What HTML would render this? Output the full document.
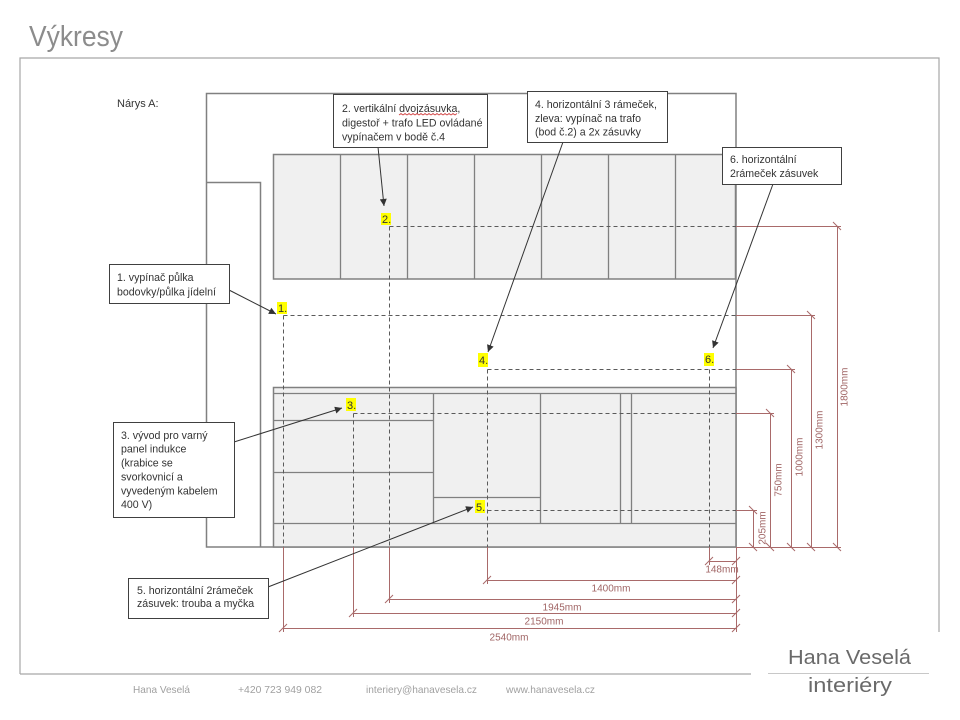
<!DOCTYPE html>
<html><head><meta charset="utf-8"><style>
html,body{margin:0;padding:0;background:#fff;}
svg{display:block;}
text{font-family:"Liberation Sans",sans-serif;}
</style></head><body>
<svg width="960" height="720" viewBox="0 0 960 720" xmlns="http://www.w3.org/2000/svg">
<defs>
<marker id="ah" viewBox="0 0 10 10" refX="10" refY="5" markerWidth="9" markerHeight="7" orient="auto" markerUnits="userSpaceOnUse"><path d="M0,0 L10,5 L0,10 z" fill="#333"/></marker>
</defs>
<rect width="960" height="720" fill="#fff"/>
<!-- title -->
<text x="29" y="46" font-size="29" fill="#8c8c8c" textLength="94" lengthAdjust="spacingAndGlyphs">Výkresy</text>
<!-- frame -->
<path d="M20,674 V58 H939 V632 M20,674 H751" fill="none" stroke="#a6a6a6" stroke-width="1.2"/>
<text x="117" y="107" font-size="11" fill="#333">Nárys A:</text>

<!-- room -->
<rect x="206.5" y="93.5" width="529.5" height="453.5" fill="none" stroke="#808080" stroke-width="1.5"/>
<path d="M206.5,182.5 H260.5 V547" fill="none" stroke="#808080" stroke-width="1.5"/>

<!-- upper cabinets -->
<rect x="273.5" y="154.5" width="462" height="124.5" fill="#f0f0f0" stroke="#808080" stroke-width="1.5"/>
<path d="M340.5,154.5V279 M407.5,154.5V279 M474.5,154.5V279 M541.5,154.5V279 M608.5,154.5V279 M675.5,154.5V279" stroke="#808080" stroke-width="1.3"/>

<!-- lower cabinets -->
<rect x="273.5" y="387.5" width="462.5" height="159.5" fill="#f0f0f0" stroke="#808080" stroke-width="1.5"/>
<path d="M273.5,393.5H736 M273.5,523.5H736 M433.5,393.5V523.5 M540.5,393.5V523.5 M620.5,393.5V523.5 M631.5,393.5V523.5 M273.5,420.5H433.5 M273.5,472.5H433.5 M433.5,497.5H540.5" fill="none" stroke="#808080" stroke-width="1.3"/>

<!-- dashed guide lines -->
<g stroke="#5a5a5a" stroke-width="1" stroke-dasharray="4 3" fill="none">
<path d="M283.5,315.5H736 M283.5,315.5V547"/>
<path d="M389.5,226.5H736 M389.5,226.5V547"/>
<path d="M353.5,413.5H736 M353.5,413.5V547"/>
<path d="M487.5,369.5H736 M487.5,369.5V547"/>
<path d="M487.5,510.5H736"/>
<path d="M709.5,369.5V547"/>
</g>

<!-- red dimensions -->
<g stroke="#a96a6a" stroke-width="1" fill="none">
<path d="M736,226.5H841 M736,315.5H815 M736,369.5H795 M736,413.5H774 M736,510.5H757 M736,547.5H841"/>
<path d="M837.5,226.5V547.5 M811.5,315.5V547.5 M791.5,369.5V547.5 M770.5,413.5V547.5 M753.5,510.5V547.5"/>
<path d="M283.5,547V632 M353.5,547V617 M389.5,547V603 M487.5,547V584 M709.5,547V565 M736.5,547V632"/>
<path d="M709.5,561.5H736.5 M487.5,580.5H736.5 M389.5,599.5H736.5 M353.5,613.5H736.5 M283.5,628.5H736.5"/>
<path d="M833,222l8,8 M833,543l8,8 M807,311l8,8 M807,543l8,8 M787,365l8,8 M787,543l8,8 M766,409l8,8 M766,543l8,8 M749,506l8,8 M749,543l8,8"/>
<path d="M705,565l8,-8 M732,565l8,-8 M483,584l8,-8 M732,584l8,-8 M385,603l8,-8 M732,603l8,-8 M349,617l8,-8 M732,617l8,-8 M279,632l8,-8 M732,632l8,-8"/>
</g>
<g font-size="10" fill="#a06565" text-anchor="middle">
<text x="722" y="572.5">148mm</text>
<text x="611" y="591.5">1400mm</text>
<text x="562" y="610.5">1945mm</text>
<text x="544" y="624.5">2150mm</text>
<text x="509" y="640.5">2540mm</text>
<text transform="translate(765.5,528) rotate(-90)">205mm</text>
<text transform="translate(781.5,480) rotate(-90)">750mm</text>
<text transform="translate(802.5,457) rotate(-90)">1000mm</text>
<text transform="translate(822.5,430) rotate(-90)">1300mm</text>
<text transform="translate(847.5,387) rotate(-90)">1800mm</text>
</g>

<!-- point labels -->
<g font-size="11" fill="#333">
<rect x="277" y="302" width="10" height="12" fill="#ffff00"/><text x="278" y="312">1.</text>
<rect x="381" y="213" width="10" height="12" fill="#ffff00"/><text x="382" y="223">2.</text>
<rect x="346" y="398" width="10" height="13" fill="#ffff00"/><text x="347" y="409">3.</text>
<rect x="478" y="353" width="10" height="14" fill="#ffff00"/><text x="479" y="364">4.</text>
<rect x="475" y="500" width="10" height="13" fill="#ffff00"/><text x="476" y="511">5.</text>
<rect x="704" y="353" width="10" height="13" fill="#ffff00"/><text x="705" y="363">6.</text>
</g>

<!-- arrows -->
<g stroke="#333" stroke-width="1" fill="none" marker-end="url(#ah)">
<line x1="229" y1="290" x2="276" y2="314"/>
<line x1="378" y1="147" x2="384" y2="206"/>
<line x1="234" y1="442" x2="342" y2="408"/>
<line x1="563" y1="142" x2="488" y2="352"/>
<line x1="268" y1="587" x2="473" y2="507"/>
<line x1="773" y1="184" x2="713" y2="348"/>
</g>

<!-- callout boxes -->
<g fill="#fff" stroke="#404040" stroke-width="1">
<rect x="109.5" y="264.5" width="120" height="39"/>
<rect x="333.5" y="94.5" width="154" height="53"/>
<rect x="527.5" y="91.5" width="140" height="51"/>
<rect x="722.5" y="147.5" width="119" height="37"/>
<rect x="113.5" y="422.5" width="121" height="95"/>
<rect x="128.5" y="578.5" width="140" height="40"/>
</g>
<g font-size="10.6" fill="#333">
<text x="117" y="281">1. vypínač půlka</text>
<text x="117" y="295.5">bodovky/půlka jídelní</text>
<text x="342" y="112">2. vertikální dvojzásuvka,</text>
<text x="342" y="126.5">digestoř + trafo LED ovládané</text>
<text x="342" y="140.5">vypínačem v bodě č.4</text>
<text x="535" y="108">4. horizontální 3 rámeček,</text>
<text x="535" y="122">zleva: vypínač na trafo</text>
<text x="535" y="135.5">(bod č.2) a 2x zásuvky</text>
<text x="730" y="163">6. horizontální</text>
<text x="730" y="177">2rámeček zásuvek</text>
<text x="121" y="439">3. vývod pro varný</text>
<text x="121" y="452.5">panel indukce</text>
<text x="121" y="466.5">(krabice se</text>
<text x="121" y="480.5">svorkovnicí a</text>
<text x="121" y="494.5">vyvedeným kabelem</text>
<text x="121" y="508">400 V)</text>
<text x="137" y="594">5. horizontální 2rámeček</text>
<text x="137" y="607">zásuvek: trouba a myčka</text>
</g>
<polyline points="399,115 401,113.5 403,115 405,113.5 407,115 409,113.5 411,115 413,113.5 415,115 417,113.5 419,115 421,113.5 423,115 425,113.5 427,115 429,113.5 431,115 433,113.5 435,115 437,113.5 439,115 441,113.5 443,115 445,113.5 447,115 449,113.5 451,115 453,113.5 455,115 457,113.5" fill="none" stroke="#d04040" stroke-width="0.8"/>

<!-- footer -->
<g font-size="10.5" fill="#a0a0a0">
<text x="133" y="693" textLength="57" lengthAdjust="spacingAndGlyphs">Hana Veselá</text>
<text x="238" y="693" textLength="84" lengthAdjust="spacingAndGlyphs">+420 723 949 082</text>
<text x="366" y="693" textLength="111" lengthAdjust="spacingAndGlyphs">interiery@hanavesela.cz</text>
<text x="506" y="693" textLength="89" lengthAdjust="spacingAndGlyphs">www.hanavesela.cz</text>
</g>

<!-- logo -->
<text x="788" y="664" font-size="20" fill="#6a6a6a" textLength="123" lengthAdjust="spacingAndGlyphs">Hana Veselá</text>
<line x1="768" y1="673.5" x2="929" y2="673.5" stroke="#c8c8c8" stroke-width="1"/>
<text x="808" y="692" font-size="20" fill="#6a6a6a" textLength="84" lengthAdjust="spacingAndGlyphs">interiéry</text>
</svg>
</body></html>
